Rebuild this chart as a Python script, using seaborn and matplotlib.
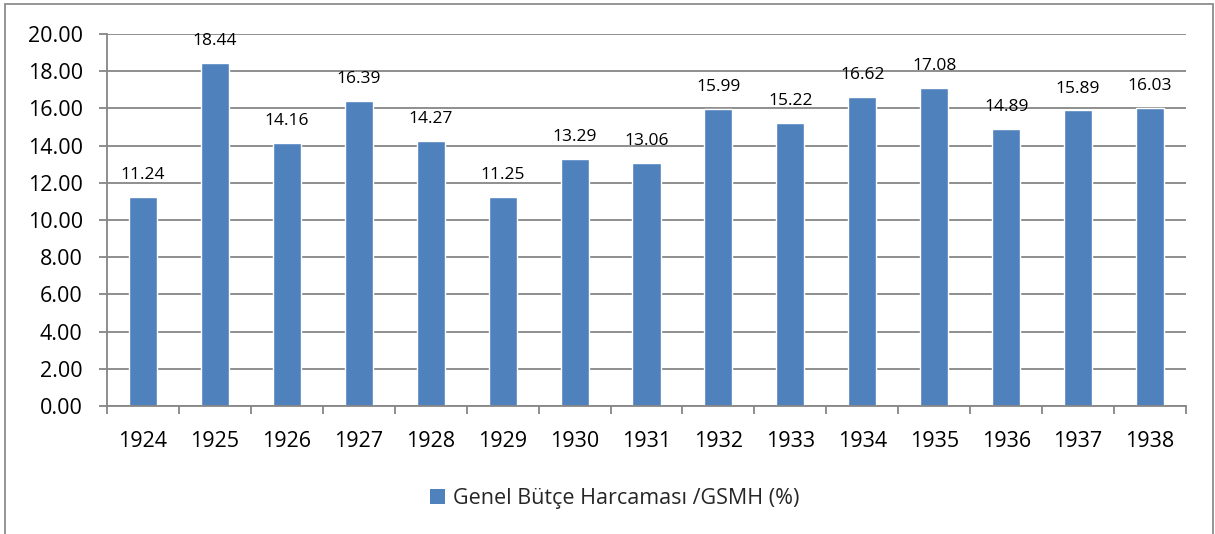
import matplotlib
matplotlib.use("Agg")
import matplotlib.pyplot as plt
import seaborn as sns
import pandas as pd
from matplotlib.patches import Rectangle, Patch
from matplotlib.ticker import MultipleLocator, FixedLocator, FormatStrFormatter

years = ["1924", "1925", "1926", "1927", "1928", "1929", "1930", "1931",
         "1932", "1933", "1934", "1935", "1936", "1937", "1938"]
values = [11.24, 18.44, 14.16, 16.39, 14.27, 11.25, 13.29, 13.06,
          15.99, 15.22, 16.62, 17.08, 14.89, 15.89, 16.03]
series_name = "Genel Bütçe Harcaması /GSMH (%)"

df = pd.DataFrame({"Yıl": years, "Değer": values})

sns.set_theme(style="white")
plt.rcParams["font.family"] = ["Open Sans", "DejaVu Sans"]

bar_color = "#4F81BD"
grid_color = "#868686"

fig = plt.figure(figsize=(12.15, 5.34), dpi=100)
ax = fig.add_axes([0.0881, 0.2397, 0.8880, 0.6966])

sns.barplot(data=df, x="Yıl", y="Değer", color=bar_color, saturation=1,
            width=0.39, ax=ax)

ax.set_xlim(-0.5, len(years) - 0.5)
ax.set_ylim(0, 20)
ax.yaxis.set_major_locator(MultipleLocator(2))
ax.yaxis.set_major_formatter(FormatStrFormatter("%.2f"))
ax.set_xlabel("")
ax.set_ylabel("")

ax.grid(axis="y", color=grid_color, linewidth=1.3)
ax.set_axisbelow(True)
for s in ["top", "right"]:
    ax.spines[s].set_visible(False)
for s in ["left", "bottom"]:
    ax.spines[s].set_color(grid_color)
    ax.spines[s].set_linewidth(1.3)

ax.tick_params(axis="y", which="major", length=5.5, width=1.3, color=grid_color,
               direction="out", pad=12, labelsize=15.5, labelcolor="black", left=True)
ax.tick_params(axis="x", which="major", length=0, pad=18, labelsize=15.5, labelcolor="black")
ax.xaxis.set_minor_locator(FixedLocator([i - 0.5 for i in range(len(years) + 1)]))
ax.tick_params(axis="x", which="minor", length=6, width=1.3, color=grid_color,
               direction="out", bottom=True)

for container in ax.containers:
    ax.bar_label(container, labels=[f"{v:.2f}" for v in values], padding=10,
                 fontsize=12.5, color="black")

handle = Patch(facecolor=bar_color, edgecolor="none")
fig.legend([handle], [series_name], loc="center", bbox_to_anchor=(0.506, 0.067),
           frameon=False, fontsize=15.5, handlelength=0.7, handleheight=0.7,
           handletextpad=0.35)

frame = Rectangle((5 / 1215, -0.05), (1213 - 5) / 1215, 1 - 4 / 534 + 0.05,
                  transform=fig.transFigure, fill=False, edgecolor="#8C8C8C",
                  linewidth=1.3, clip_on=False)
fig.patches.append(frame)

fig.savefig("out.png", dpi=100)
